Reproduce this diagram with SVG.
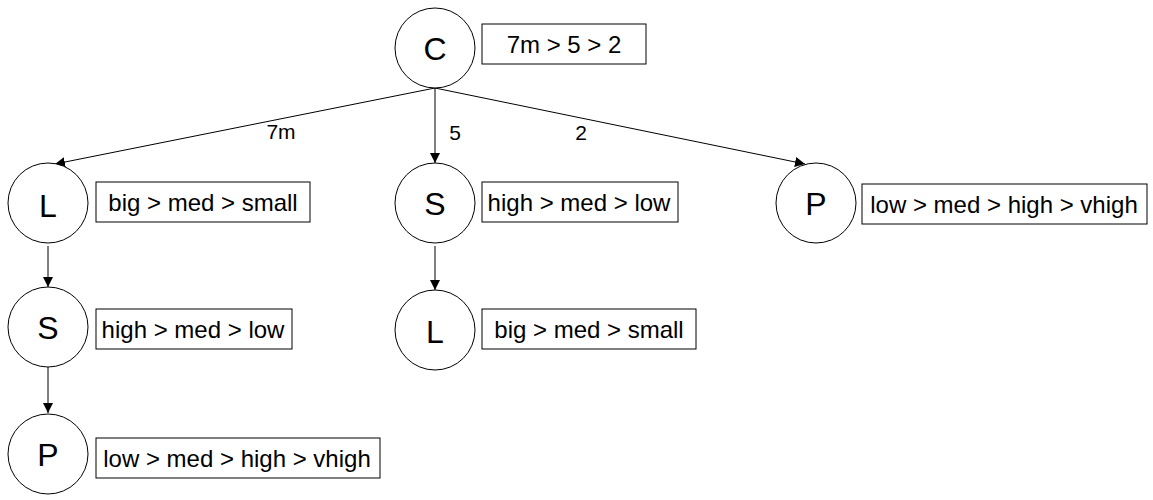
<svg xmlns="http://www.w3.org/2000/svg" width="1153" height="500" viewBox="0 0 1153 500">
<style>
.node circle{fill:#fff;stroke:#000;stroke-width:1}
.node rect{fill:#fff;stroke:#000;stroke-width:1}
.lt{font-family:"Liberation Sans",Arial,sans-serif;font-size:32px;text-anchor:middle;fill:#000}
.bt{font-family:"Liberation Sans",Arial,sans-serif;font-size:24px;text-anchor:middle;fill:#000}
.el{font-family:"Liberation Sans",Arial,sans-serif;font-size:21px;text-anchor:middle;fill:#000}
.edge{stroke:#000;stroke-width:1;fill:none;marker-end:url(#arr)}
</style>
<defs>
<marker id="arr" viewBox="0 0 10 10" refX="10" refY="5" markerWidth="10" markerHeight="10" markerUnits="userSpaceOnUse" orient="auto">
<path d="M0,0 L10,5 L0,10 z" fill="#000"/>
</marker>
</defs>
<rect width="1153" height="500" fill="#fff"/>
<g id="connectors">
<line class="edge" x1="435" y1="88" x2="55" y2="164"/>
<line class="edge" x1="435" y1="88" x2="435" y2="163"/>
<line class="edge" x1="435" y1="88" x2="805" y2="164"/>
<line class="edge" x1="48" y1="246" x2="48" y2="287"/>
<line class="edge" x1="48" y1="367" x2="48" y2="413"/>
<line class="edge" x1="435" y1="246" x2="435" y2="290"/>
<text class="el" x="281" y="139">7m</text>
<text class="el" x="455" y="140">5</text>
<text class="el" x="581" y="140">2</text>
</g>
<g id="node-C" class="node">
<circle cx="435" cy="48" r="40"/>
<text class="lt" x="435" y="60">C</text>
<rect x="482" y="24" width="164" height="40"/>
<text class="bt" x="564" y="53">7m &gt; 5 &gt; 2</text>
</g>
<g id="node-L1" class="node">
<circle cx="48" cy="203" r="40"/>
<text class="lt" x="48" y="217">L</text>
<rect x="96" y="182" width="214" height="40"/>
<text class="bt" x="203" y="211">big &gt; med &gt; small</text>
</g>
<g id="node-S1" class="node">
<circle cx="48" cy="327" r="40"/>
<text class="lt" x="48" y="339">S</text>
<rect x="96" y="309" width="196" height="40"/>
<text class="bt" x="193" y="338">high &gt; med &gt; low</text>
</g>
<g id="node-P1" class="node">
<circle cx="48" cy="454" r="40"/>
<text class="lt" x="48" y="466">P</text>
<rect x="96" y="438" width="284" height="40"/>
<text class="bt" x="237" y="467">low &gt; med &gt; high &gt; vhigh</text>
</g>
<g id="node-S2" class="node">
<circle cx="435" cy="203" r="40"/>
<text class="lt" x="435" y="215">S</text>
<rect x="482" y="182" width="196" height="40"/>
<text class="bt" x="579" y="211">high &gt; med &gt; low</text>
</g>
<g id="node-L2" class="node">
<circle cx="435" cy="330" r="40"/>
<text class="lt" x="435" y="343">L</text>
<rect x="482" y="309" width="214" height="40"/>
<text class="bt" x="589" y="338">big &gt; med &gt; small</text>
</g>
<g id="node-P2" class="node">
<circle cx="816" cy="203" r="40"/>
<text class="lt" x="816" y="215">P</text>
<rect x="862" y="184" width="285" height="40"/>
<text class="bt" x="1004" y="213">low &gt; med &gt; high &gt; vhigh</text>
</g>
</svg>
